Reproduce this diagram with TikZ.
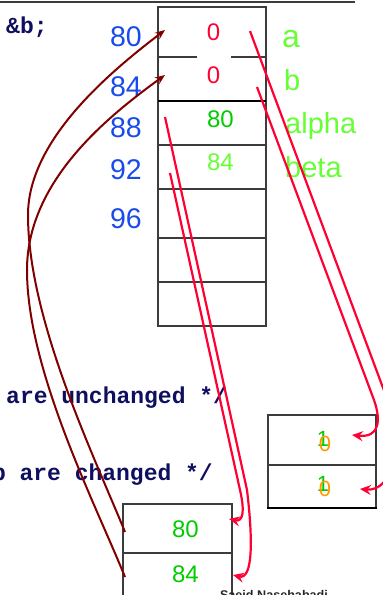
\documentclass[tikz,border=0pt]{standalone}
\usepackage{fontspec}
\setmainfont{Liberation Sans}
\newfontfamily\codefont{Liberation Mono}
\usetikzlibrary{arrows.meta, positioning}
\definecolor{addrblue}{RGB}{25,75,235}
\definecolor{namegreen}{RGB}{102,255,51}
\definecolor{valgreen}{RGB}{0,204,0}
\definecolor{zerored}{RGB}{255,0,51}
\definecolor{ptrred}{RGB}{128,0,0}
\definecolor{codeblue}{RGB}{15,15,95}
\definecolor{oldorange}{RGB}{255,153,0}
\definecolor{framegray}{RGB}{60,60,60}

\begin{document}
\begin{tikzpicture}[x=1pt, y=-1pt,
  addr/.style={text=addrblue, font=\fontsize{28.5}{30}\selectfont, inner sep=0pt, anchor=base},
  val/.style={font=\fontsize{24}{26}\selectfont, inner sep=0pt, anchor=base},
  lbl/.style={text=namegreen, font=\fontsize{29}{31}\selectfont, inner sep=0pt, anchor=base west},
  code/.style={text=codeblue, font=\codefont\bfseries\fontsize{23}{25}\selectfont, inner sep=0pt, anchor=base west},
  frame/.style={draw=framegray, line width=1.4pt},
  ptr/.style={-{Stealth[length=10pt, width=8pt]}, draw=ptrred, line width=2pt},
  cparrow/.style={-{Stealth[length=11pt, width=10pt, inset=4pt]}, draw=zerored, line width=2.2pt},
]
  \useasboundingbox (0,0) rectangle (383,595);
  \clip (0,0) rectangle (383,595);

  % slide rule and code
  \draw[framegray, line width=2pt] (0,1.5) -- (355,1.5);
  \node[code] (c1) at (6,33) {\&b;};
  \node[code] (c2) at (6,403) {are unchanged */};
  \node[code] (c3) at (-8.2,480) {b are changed */};

  % memory of main
  \draw[frame] (158,7) rectangle (266,326);
  \draw[frame] (158,57) -- (197,57) (231,57) -- (266,57);
  \draw[black, line width=2pt] (158,101) -- (266,101);
  \foreach \y in {145,189,238,282}
    \draw[frame] (158,\y) -- (266,\y);

  \node[addr] (m80) at (126,46.5) {80};
  \node[addr] (m84) at (126,96.5) {84};
  \node[addr] (m88) at (126,137) {88};
  \node[addr] (m92) at (126,179) {92};
  \node[addr] (m96) at (126,228) {96};

  \node[val, text=zerored] (va) at (213.5,40) {0};
  \node[val, text=zerored] (vb) at (213.5,83) {0};
  \node[val, text=valgreen] (valpha) at (220.5,127) {80};
  \node[val, text=namegreen] (vbeta) at (220.5,170) {84};

  \node[lbl, font=\fontsize{32}{34}\selectfont] (la) at (282,47) {a};
  \node[lbl] (lb) at (284,90) {b};
  \node[lbl] (lalpha) at (285,133.3) {alpha};
  \node[lbl] (lbeta) at (285,177.3) {beta};

  % memory of swap
  \draw[frame] (268,508) -- (268,415) -- (376,415) -- (376,508);
  \draw[frame] (268,465) -- (376,465);
  \draw[black, line width=2pt] (267,508) -- (377,508);
  \node[val, text=valgreen, font=\fontsize{22}{24}\selectfont] (oa) at (323,446.5) {1};
  \node[val, text=oldorange, font=\fontsize{22}{24}\selectfont] (na) at (325,451.5) {0};
  \node[val, text=valgreen, font=\fontsize{22}{24}\selectfont] (ob) at (323,491.7) {1};
  \node[val, text=oldorange, font=\fontsize{22}{24}\selectfont] (nb) at (325,496.5) {0};

  \draw[frame] (123,600) -- (123,504) -- (232,504) -- (232,600);
  \draw[frame] (123,553) -- (232,553);
  \node[val, text=valgreen] (pa) at (185.5,537) {80};
  \node[val, text=valgreen] (pb) at (185.5,582.5) {84};

  \node[font=\bfseries\fontsize{12.6}{13}\selectfont, text=black!85, inner sep=0pt, anchor=base] (sign) at (274,599.7) {Saeid Nasehabadi};

  % connector ends
  \coordinate (pa0) at (125,532);
  \coordinate (pb0) at (125,577);
  \coordinate (ta0) at (165,30);
  \coordinate (tb0) at (165,75);
  \coordinate (sa) at (250,31);
  \coordinate (sb) at (257,87);
  \coordinate (salpha) at (165,117);
  \coordinate (sbeta) at (170,173);
  \coordinate (na0) at (352,435);
  \coordinate (nb0) at (360,489);
  \coordinate (pa1) at (229,519);
  \coordinate (pb1) at (233,575);

  % pointers
  \draw[ptr] (pa0) .. controls (95,458) and (28,320) .. (28,215) .. controls (28,140) and (110,72) .. (ta0);
  \draw[ptr] (pb0) .. controls (95,503) and (27,370) .. (27,270) .. controls (27,180) and (110,115) .. (tb0);

  % copies
  \draw[cparrow] (sb) -- (374,400) .. controls (381,420) and (380,438) .. (na0);
  \draw[cparrow] (sa) -- (392,412) .. controls (400,440) and (395,492) .. (nb0);
  \draw[cparrow] (sbeta) -- (240,490) .. controls (245,512) and (243,522) .. (pa1);
  \draw[cparrow] (salpha) -- (247,490) .. controls (253,540) and (253,580) .. (pb1);
\end{tikzpicture}
\end{document}
